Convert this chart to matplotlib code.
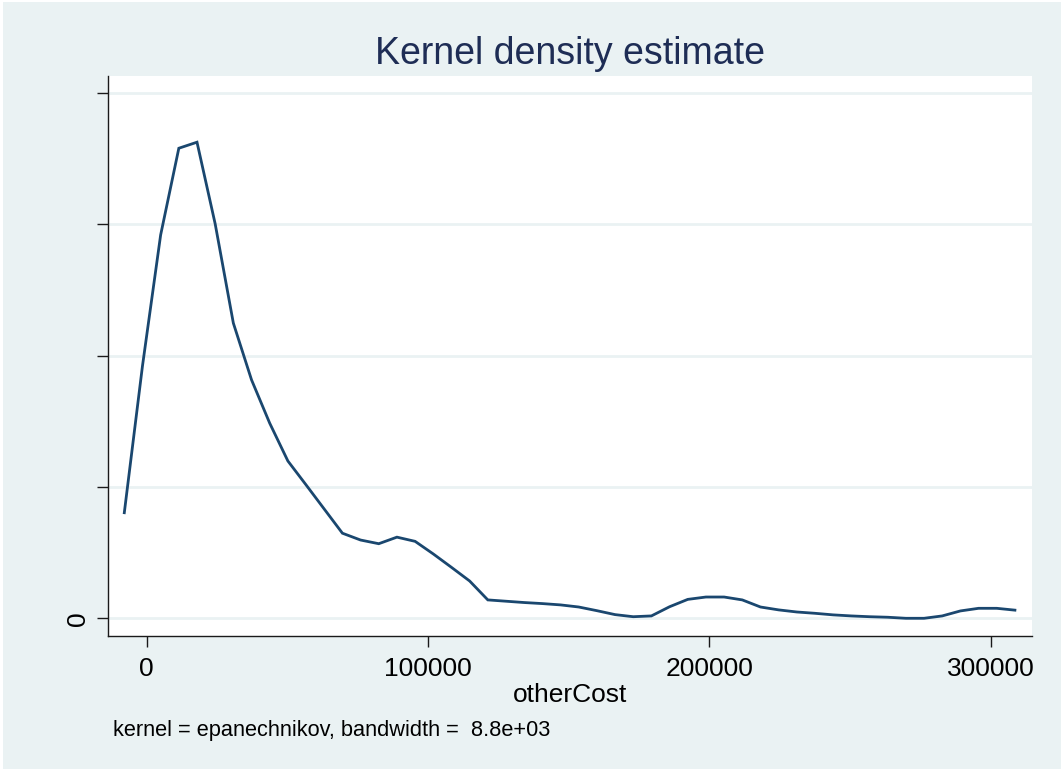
import matplotlib
matplotlib.use("Agg")
import matplotlib.pyplot as plt
from matplotlib.patches import Rectangle

# Evaluation grid of the kernel density estimate (otherCost)
other_cost = [
    -7962, -1501, 4960, 11421, 17882, 24343, 30804, 37265, 43726, 50187,
    56648, 63109, 69570, 76031, 82492, 88953, 95414, 101875, 108336, 114797,
    121258, 127719, 134180, 140641, 147102, 153563, 160024, 166485, 172946, 179407,
    185868, 192329, 198790, 205251, 211712, 218173, 224634, 231095, 237556, 244017,
    250478, 256939, 263400, 269861, 276322, 282783, 289244, 295705, 302166, 308627,
]

# Estimated density at each grid point, in units of 1e-6
density_e6 = [
    4.02, 9.61, 14.60, 17.90, 18.13, 15.02, 11.24, 9.08, 7.43, 5.99,
    5.08, 4.16, 3.24, 2.98, 2.84, 3.09, 2.93, 2.45, 1.94, 1.42,
    0.70, 0.65, 0.60, 0.56, 0.51, 0.43, 0.29, 0.14, 0.06, 0.09,
    0.44, 0.72, 0.81, 0.81, 0.70, 0.43, 0.32, 0.24, 0.19, 0.13,
    0.09, 0.06, 0.04, 0.00, 0.00, 0.09, 0.28, 0.38, 0.38, 0.31,
]

x_ticks = [0, 100000, 200000, 300000]
x_tick_labels = ["0", "100000", "200000", "300000"]
y_ticks_e6 = [0, 5, 10, 15, 20]
y_tick_labels = ["0", "", "", "", ""]

title_text = "Kernel density estimate"
x_label = "otherCost"
note_text = "kernel = epanechnikov, bandwidth =  8.8e+03"

BG = "#eaf2f3"
LINE = "#1a476f"
TITLE = "#1e2d55"

W, H = 1061, 769
plt.rcParams["font.family"] = ["Liberation Sans", "DejaVu Sans"]

fig = plt.figure(figsize=(W / 100, H / 100), dpi=100, facecolor="white")

# Light outer graph region with a thin white frame
fig.add_artist(Rectangle((3 / W, 0), (W - 3) / W, (H - 2) / H,
                         transform=fig.transFigure, facecolor=BG,
                         edgecolor="none", zorder=-10))


def fx(px):
    return px / W


def fy(py):
    return 1 - py / H


left, right, top, bottom = 108, 1032, 76, 635.7
ax = fig.add_axes([fx(left), fy(bottom), fx(right) - fx(left), fy(top) - fy(bottom)])
ax.set_zorder(1)
ax.set_facecolor("white")

density = [v * 1e-6 for v in density_e6]
ax.plot(other_cost, density, color=LINE, linewidth=2.0, solid_joinstyle="miter", zorder=3)

ax.set_xlim(-13756, 314700)
ax.set_ylim(-0.663e-6, 20.651e-6)

ax.set_xticks(x_ticks)
ax.set_xticklabels(x_tick_labels)
ax.set_yticks([v * 1e-6 for v in y_ticks_e6])
ax.set_yticklabels(y_tick_labels, rotation=90, va="center")

ax.grid(axis="y", color=BG, linewidth=2.0, zorder=1)
ax.grid(axis="x", visible=False)

for side in ("top", "right"):
    ax.spines[side].set_visible(False)
for side in ("left", "bottom"):
    ax.spines[side].set_color("#1a1a1a")
    ax.spines[side].set_linewidth(1.0)

ax.tick_params(axis="both", direction="out", length=8, width=1.0, color="#1a1a1a",
               labelsize=19, labelcolor="black")
ax.tick_params(axis="x", pad=7)
ax.tick_params(axis="y", pad=5)

fig.text(fx(570), fy(64), title_text, ha="center", va="baseline",
         fontsize=27, color=TITLE)
fig.text(fx(570), fy(701.5), x_label, ha="center", va="baseline",
         fontsize=19, color="black")
fig.text(fx(113), fy(736), note_text, ha="left", va="baseline",
         fontsize=15.7, color="black")

fig.savefig("out.png", dpi=100, facecolor="white")
